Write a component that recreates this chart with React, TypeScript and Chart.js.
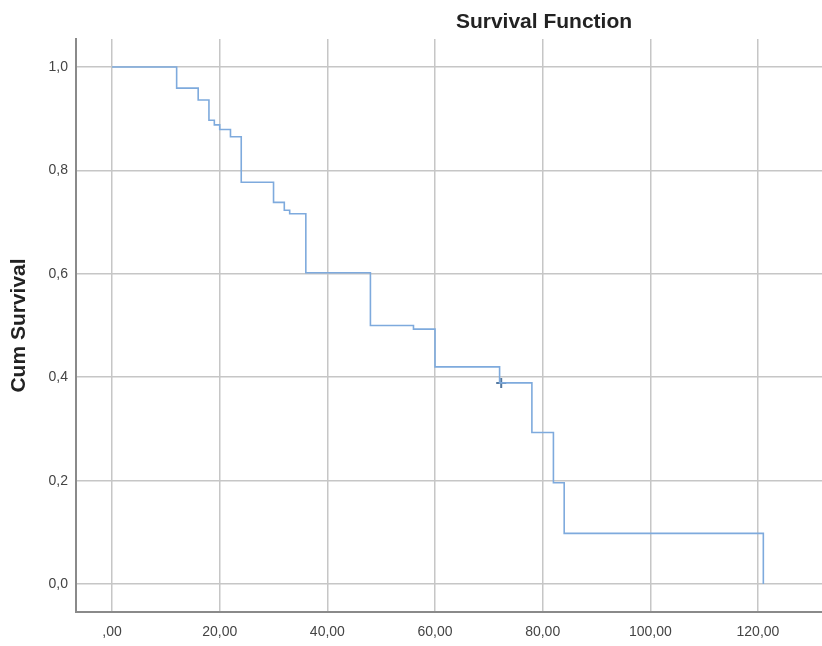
import { useEffect, useRef } from "react";
import { Chart, registerables } from "chart.js";

Chart.register(...registerables);

// Kaplan–Meier estimate (event times and cumulative survival)
const times = [0, 12, 16, 18, 19, 20, 22, 24, 30, 32, 33, 36, 48, 56, 60, 72, 78, 82, 84, 121];
const survival = [1.0, 0.959, 0.936, 0.897, 0.888, 0.879, 0.865, 0.777, 0.738, 0.723, 0.716, 0.602, 0.5, 0.493, 0.42, 0.389, 0.293, 0.196, 0.098, 0.0];

// Censored observations
const censorTimes = [72.3];
const censorSurvival = [0.389];

// Tick values and labels
const xTickValues = [0, 20, 40, 60, 80, 100, 120];
const xTickLabels = [",00", "20,00", "40,00", "60,00", "80,00", "100,00", "120,00"];
const yTickValues = [0, 0.2, 0.4, 0.6, 0.8, 1.0];
const yTickLabels = ["0,0", "0,2", "0,4", "0,6", "0,8", "1,0"];

const chartTitle = "Survival Function";
const yAxisTitle = "Cum Survival";

const FONT = "'Liberation Sans', Arial, sans-serif";

export default function App() {
  const canvasRef = useRef<HTMLCanvasElement | null>(null);

  useEffect(() => {
    const canvas = canvasRef.current;
    if (!canvas) return;

    const titlePlugin = {
      id: "spssTitle",
      afterDraw(chart: any) {
        const ctx = chart.ctx;
        ctx.save();
        ctx.font = `bold 21px ${FONT}`;
        ctx.fillStyle = "#222222";
        ctx.textAlign = "center";
        ctx.textBaseline = "middle";
        ctx.fillText(chartTitle, 544, 22);
        ctx.restore();
      },
    };

    const chart = new Chart(canvas, {
      type: "line",
      data: {
        datasets: [
          {
            label: "Survival",
            data: times.map((t, i) => ({ x: t, y: survival[i] })),
            stepped: true,
            borderColor: "#7eaadd",
            borderWidth: 1.6,
            pointRadius: 0,
            fill: false,
          },
          {
            label: "Censored",
            data: censorTimes.map((t, i) => ({ x: t, y: censorSurvival[i] })),
            showLine: false,
            pointStyle: "cross",
            pointRadius: 5,
            pointBorderWidth: 2,
            borderColor: "#54789f",
            backgroundColor: "#54789f",
          },
        ],
      },
      plugins: [titlePlugin],
      options: {
        responsive: false,
        animation: false,
        layout: { autoPadding: false, padding: { top: 39, left: 0, right: 0, bottom: 0 } },
        plugins: {
          legend: { display: false },
          tooltip: { enabled: false },
          title: { display: false },
        },
        scales: {
          x: {
            type: "linear",
            min: -6.7,
            max: 131.9,
            afterBuildTicks: (s: any) => {
              s.ticks = xTickValues.map((v) => ({ value: v }));
            },
            afterFit: (s: any) => {
              s.height = 34;
              s.paddingLeft = 0;
              s.paddingRight = 0;
            },
            ticks: {
              autoSkip: false,
              maxRotation: 0,
              padding: 12,
              color: "#444444",
              font: { family: FONT, size: 14 },
              callback: (v: any) => xTickLabels[xTickValues.indexOf(Number(v))] ?? "",
            },
            grid: { color: "#c6c6c6", lineWidth: 1.5, drawTicks: false },
            border: { display: true, color: "#8a8a8a", width: 2 },
          },
          y: {
            type: "linear",
            min: -0.054,
            max: 1.054,
            afterBuildTicks: (s: any) => {
              s.ticks = yTickValues.map((v) => ({ value: v }));
            },
            afterFit: (s: any) => {
              s.width = 76;
            },
            ticks: {
              padding: 8,
              color: "#444444",
              font: { family: FONT, size: 14 },
              callback: (v: any) => {
                const idx = yTickValues.findIndex((t) => Math.abs(t - Number(v)) < 1e-9);
                return idx >= 0 ? yTickLabels[idx] : "";
              },
            },
            grid: { color: "#c6c6c6", lineWidth: 1.5, drawTicks: false },
            border: { display: true, color: "#8a8a8a", width: 2 },
            title: {
              display: true,
              text: yAxisTitle,
              color: "#222222",
              font: { family: FONT, size: 21, weight: "bold" },
              padding: { top: 7, bottom: 0 },
            },
          },
        },
      },
    });

    return () => {
      chart.destroy();
    };
  }, []);

  return (
    <div style={{ position: "absolute", left: 0, top: 0, width: 822, height: 646, background: "#ffffff" }}>
      <canvas ref={canvasRef} width={822} height={646} style={{ display: "block" }} />
    </div>
  );
}
